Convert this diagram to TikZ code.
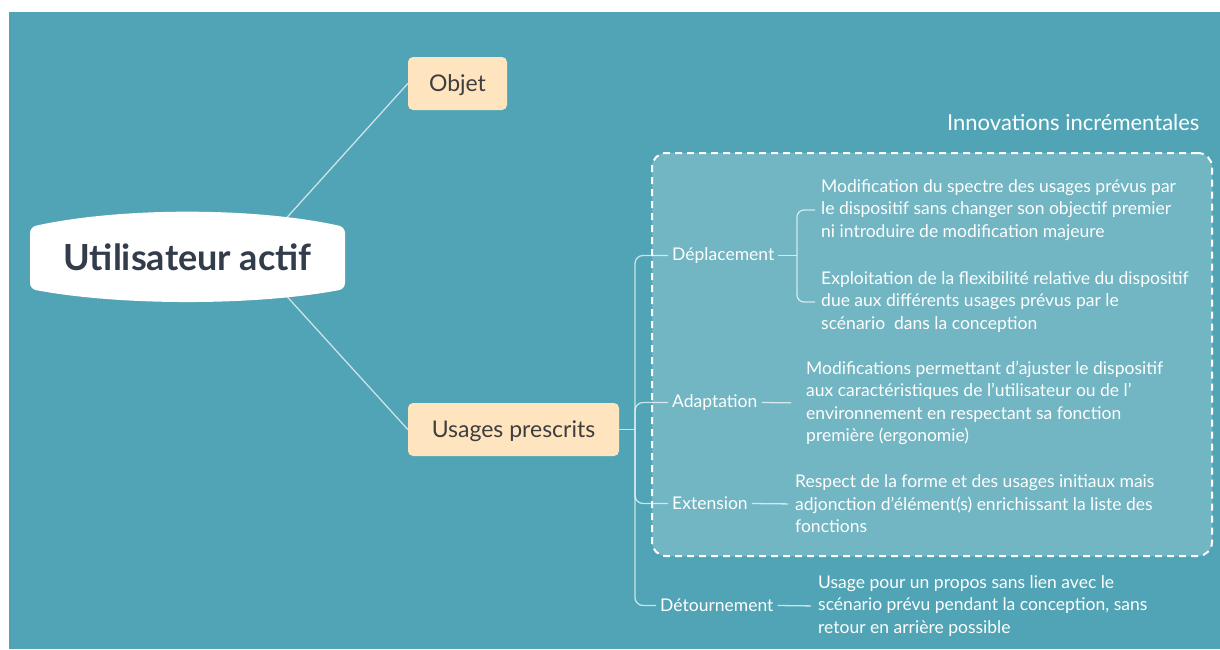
\documentclass[tikz,border=0pt]{standalone}
\usepackage{fontspec}
\setmainfont{Lato}
\usetikzlibrary{positioning, calc}
\definecolor{mapteal}{RGB}{81,164,181}
\definecolor{zonefill}{RGB}{114,181,195}
\definecolor{topicfill}{RGB}{255,229,191}
\definecolor{topictext}{RGB}{62,62,62}
\definecolor{roottext}{RGB}{51,60,75}

\begin{document}
\begin{tikzpicture}[
    x=1pt, y=-1pt,
    root/.style={minimum width=315pt, minimum height=90pt, text=roottext,
                 font=\fontsize{36}{40}\selectfont\bfseries},
    topic/.style={rectangle, rounded corners=5pt, fill=topicfill, text=topictext,
                  minimum height=53pt, text height=16pt, text depth=0pt,
                  font=\fontsize{23}{26}\selectfont},
    branch/.style={text=white, inner xsep=4pt, inner ysep=2pt, font=\fontsize{17.5}{20}\selectfont},
    note/.style={text=white, align=left, inner sep=0pt, font=\fontsize{17.5}{22.5}\selectfont},
    zone/.style={rectangle, rounded corners=14pt, fill=zonefill, draw=white,
                 line width=2pt, dash pattern=on 7pt off 5pt},
    link/.style={draw=white, draw opacity=0.7, line width=1.3pt},
]
    % backdrop
    \fill[white] (0,0) rectangle (1220,649);
    \fill[mapteal] (9,12) rectangle (1220,649);

    % dashed group
    \node[zone, minimum width=560pt, minimum height=403pt] (incr) at (932,354.5) {};
    \node[text=white, anchor=east, font=\fontsize{22}{24}\selectfont] (incrtitle) at (1203,122) {Innovations incrémentales};

    % central topic
    \fill[white, rounded corners=6pt] (30,227) .. controls (120,207) and (255,207) .. (345,227)
        -- (345,289) .. controls (255,306) and (120,306) .. (30,289) -- cycle;
    \node[root] (user) at (187.5,257) {Utilisateur actif};

    \node[topic, minimum width=99pt] (objet) at (457.5,83.5) {Objet};
    \node[topic, minimum width=211pt] (usages) at (513.5,429.5) {Usages prescrits};

    \draw[link] ($(user.center)+(99,-39)$) -- (objet.west);
    \draw[link] ($(user.center)+(99,39)$) -- (usages.west);

    % branches
    \node[branch, anchor=west] (depl) at (668,255.5) {Déplacement};
    \node[branch, anchor=west] (adapt) at (668,402.5) {Adaptation};
    \node[branch, anchor=west] (ext) at (668,503.5) {Extension};
    \node[branch, anchor=west] (detour) at (656,605.5) {Détournement};

    \coordinate (trunk) at (635,429.5);
    \draw[link] (usages.east) -- (trunk);
    \foreach \b in {depl, adapt, ext, detour}
        \draw[link, rounded corners=8pt] (trunk) |- (\b.west);

    % notes
    \node[note, anchor=west] (deplA) at (821,210) {Modification du spectre des usages prévus par\\le dispositif sans changer son objectif premier\\ni introduire de modification majeure};
    \node[note, anchor=west] (deplB) at (821,302) {Exploitation de la flexibilité relative du dispositif\\due aux différents usages prévus par le\\scénario~ dans la conception};
    \node[note, anchor=west] (adaptnote) at (806,403) {Modifications permettant d'ajuster le dispositif\\aux caractéristiques de l'utilisateur ou de l'\\environnement en respectant sa fonction\\première (ergonomie)};
    \node[note, anchor=west] (extnote) at (795,504) {Respect de la forme et des usages initiaux mais\\adjonction d'élément(s) enrichissant la liste des\\fonctions};
    \node[note, anchor=west] (detnote) at (818,606) {Usage pour un propos sans lien avec le\\scénario prévu pendant la conception, sans\\retour en arrière possible};

    \coordinate (deplfork) at (797,255.5);
    \draw[link] (depl.east) -- (deplfork);
    \draw[link, rounded corners=7pt] (deplfork) |- ([xshift=-6pt]deplA.west);
    \draw[link, rounded corners=7pt] (deplfork) |- ([xshift=-6pt]deplB.west);
    \draw[link, shorten >=15pt] (adapt.east) -- (adaptnote.west);
    \draw[link, shorten >=7pt] (ext.east) -- (extnote.west);
    \draw[link, shorten >=7pt] (detour.east) -- (detnote.west);
\end{tikzpicture}
\end{document}
